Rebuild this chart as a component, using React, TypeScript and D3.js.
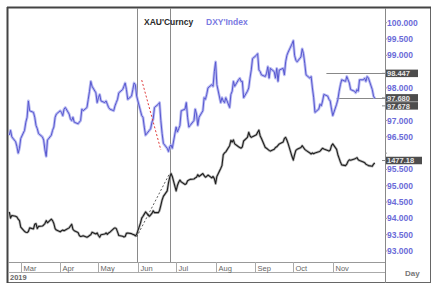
import React from "react";
import * as d3 from "d3";

const W = 437;
const H = 287;

// Trading-day closes, 20 Feb 2019 .. 4 Dec 2019 (weekdays)
const dxyClose = [
  96.55, 96.7, 96.5,
  96.35, 96.2, 96.0, 96.15, 96.45,
  96.7, 96.95, 97.1, 97.6, 97.3,
  97.25, 97.1, 96.85, 96.75, 96.6,
  96.5, 96.4, 96.1, 95.9, 96.4,
  96.55, 96.7, 96.8, 97.1, 97.2,
  97.3, 97.25, 97.15, 97.35, 97.4,
  97.2, 97.05, 97.0, 97.1, 96.95,
  96.9, 96.95, 97.0, 97.35, 97.3,
  97.4, 97.65, 97.9, 98.2, 98.05,
  97.85, 97.55, 97.7, 97.8, 97.6,
  97.55, 97.6, 97.5, 97.4, 97.35,
  97.3, 97.45, 97.55, 97.65, 97.85,
  97.95, 98.05, 98.15, 97.95, 97.65,
  97.75, 97.95, 98.15, 98.1, 97.75,
  97.3, 97.15, 97.1, 96.8, 96.55,
  96.7, 96.75, 96.95, 97.05, 97.4,
  97.5, 97.55, 97.0, 96.6, 96.3,
  96.15, 96.05, 96.2, 96.25, 96.15,
  96.8, 96.65, 96.75, 96.85, 97.3,
  97.35, 97.55, 97.1, 96.8, 96.85,
  97.0, 97.35, 97.2, 96.85, 97.1,
  97.3, 97.7, 97.65, 97.8, 98.0,
  98.1, 98.05, 98.5, 98.8, 98.1,
  97.55, 97.7, 97.6, 97.55, 97.7,
  97.4, 97.8, 97.9, 98.2, 98.05,
  98.25, 98.3, 98.2, 98.2, 97.7,
  97.9, 98.0, 98.3, 98.55, 98.9,
  99.0, 99.05, 98.55, 98.5, 98.4,
  98.35, 98.45, 98.65, 98.3, 98.6,
  98.5, 98.3, 98.6, 98.2, 98.55,
  98.6, 98.4, 98.8, 99.0, 99.1,
  99.35, 99.45, 99.0, 98.85, 98.8,
  98.95, 99.2, 99.05, 98.75, 98.4,
  98.3, 98.35, 98.0, 97.7, 97.25,
  97.35, 97.5, 97.45, 97.6, 97.8,
  97.75, 97.65, 97.6, 97.35, 97.15,
  97.5, 97.65, 97.9, 98.1, 98.25,
  98.2, 98.35, 98.25, 98.15, 97.95,
  97.9, 97.85, 97.95, 97.9, 98.25,
  98.25, 98.3, 98.2, 98.35, 98.3,
  97.95, 97.75, 97.68,
];

const goldClose = [
  1342, 1325, 1332,
  1330, 1328, 1322, 1318, 1300,
  1288, 1286, 1285, 1288, 1298,
  1295, 1308, 1310, 1296, 1302,
  1303, 1306, 1310, 1318, 1312,
  1322, 1318, 1310, 1296, 1292,
  1287, 1290, 1292, 1290, 1292,
  1298, 1303, 1308, 1294, 1290,
  1285, 1277, 1274, 1275, 1276,
  1272, 1274, 1277, 1279, 1286,
  1281, 1284, 1277, 1272, 1279,
  1281, 1284, 1280, 1284, 1286,
  1296, 1298, 1296, 1287, 1277,
  1275, 1273, 1274, 1283, 1284,
  1282, 1280, 1279, 1276, 1280,
  1311, 1325, 1330, 1336, 1342,
  1330, 1334, 1338, 1345, 1340,
  1340, 1346, 1360, 1375, 1385,
  1400, 1422, 1438, 1448, 1440,
  1400, 1415, 1424, 1430, 1425,
  1418, 1420, 1428, 1430, 1432,
  1433, 1436, 1438, 1445, 1440,
  1448, 1442, 1438, 1440, 1444,
  1436, 1440, 1434, 1420, 1440,
  1462, 1470, 1500, 1505, 1508,
  1525, 1540, 1535, 1541, 1530,
  1522, 1520, 1518, 1522, 1538,
  1548, 1562, 1552, 1548, 1550,
  1555, 1562, 1568, 1552, 1545,
  1520, 1518, 1515, 1512, 1510,
  1515, 1520, 1522, 1526, 1530,
  1535, 1545, 1548, 1540, 1530,
  1495, 1485, 1500, 1512, 1515,
  1520, 1525, 1520, 1515, 1512,
  1505, 1502, 1505, 1503, 1505,
  1508, 1510, 1514, 1518, 1516,
  1512, 1510, 1513, 1525, 1530,
  1515, 1500, 1490, 1480, 1472,
  1470, 1474, 1482, 1486, 1485,
  1488, 1490, 1492, 1486, 1484,
  1480, 1478, 1474, 1472, 1470,
  1468, 1474, 1477.18,
];

const dxyTickValues = [100, 99.5, 99, 98.5, 98, 97.5, 97, 96.5, 96, 95.5, 95, 94.5, 94, 93.5, 93];
const monthStarts = ["2019-03-01", "2019-04-01", "2019-05-01", "2019-06-01", "2019-07-01", "2019-08-01", "2019-09-01", "2019-10-01", "2019-11-01"];
const markerDates = ["2019-05-31", "2019-06-26"];
const dxyLevels = [
  { from: "2019-10-27", value: 98.447 },
  { from: "2019-11-04", value: 97.68 },
];
const redTrend = [
  { date: "2019-06-04", value: 98.24 },
  { date: "2019-06-19", value: 96.1 },
];
const goldTrend = [
  { date: "2019-05-31", value: 1273 },
  { date: "2019-06-26", value: 1449 },
];
const priceTags = [
  { text: "98.447", series: "dxy", value: 98.447, shift: 0 },
  { text: "97.680", series: "dxy", value: 97.68, shift: -0.5 },
  { text: "97.678", series: "dxy", value: 97.68, shift: 7.5 },
  { text: "1477.18", series: "gold", value: 1477.18, shift: -2.5 },
];

const parse = d3.timeParse("%Y-%m-%d");

export default function App() {
  const days = d3
    .timeDay.range(new Date(2019, 1, 20), new Date(2019, 11, 5))
    .filter((d) => d.getDay() !== 0 && d.getDay() !== 6);

  const left = 8;
  const right = 385;
  const top = 8;
  const bottom = 262;

  const x = d3.scaleTime().domain([new Date(2019, 1, 19), new Date(2019, 11, 12)]).range([left, right]);
  const yD = d3.scaleLinear().domain([93, 100]).range([251, 22.7]);
  const yG = d3.scaleLinear().domain([1270, 1477.18]).range([238, 163]);

  const n = Math.min(days.length, dxyClose.length, goldClose.length);
  const dxyPts: [number, number][] = [];
  const goldPts: [number, number][] = [];
  for (let i = 0; i < n; i++) {
    dxyPts.push([x(days[i]), yD(dxyClose[i])]);
    goldPts.push([x(days[i]), yG(goldClose[i])]);
  }
  const line = d3.line().curve(d3.curveLinear);
  const dxyPath = line(dxyPts) || "";
  const goldPath = line(goldPts) || "";

  const font = "'Liberation Sans', Arial, sans-serif";
  const blue = "#6b6bd8";

  const tagYs = priceTags.map((t) => (t.series === "dxy" ? yD(t.value) : yG(t.value)) + t.shift);
  const visibleTicks = dxyTickValues.filter((v) => tagYs.every((ty) => Math.abs(yD(v) - ty) > 8));

  return (
    <svg width={W} height={H} style={{ position: "absolute", left: 0, top: 0 }} fontFamily={font}>
      <rect x={0} y={0} width={W} height={H} fill="#fff" />
      {/* frame */}
      <rect x={7.5} y={7.5} width={423} height={275} fill="none" stroke="#666" strokeWidth={1} />
      <line x1={7} x2={431} y1={7.5} y2={7.5} stroke="#444" strokeWidth={2} />
      <line x1={7.5} x2={7.5} y1={7} y2={283} stroke="#444" strokeWidth={2} />
      <line x1={right + 0.5} x2={right + 0.5} y1={top} y2={283} stroke="#888" />
      <line x1={left} x2={right} y1={bottom + 0.5} y2={bottom + 0.5} stroke="#999" />
      <line x1={left} x2={right} y1={272.5} y2={272.5} stroke="#aaa" />

      {/* markers */}
      {markerDates.map((d) => (
        <line key={d} x1={Math.round(x(parse(d)!)) + 0.5} x2={Math.round(x(parse(d)!)) + 0.5} y1={top} y2={bottom} stroke="#8a8a8a" />
      ))}

      {/* level lines */}
      {dxyLevels.map((l) => (
        <line key={l.value} x1={x(parse(l.from)!)} x2={right} y1={Math.round(yD(l.value)) + 0.5} y2={Math.round(yD(l.value)) + 0.5} stroke="#888" />
      ))}

      {/* series */}
      <path d={goldPath} fill="none" stroke="#9a9a9a" strokeWidth={2.6} strokeLinejoin="round" opacity={0.7} />
      <path d={goldPath} fill="none" stroke="#1e1e1e" strokeWidth={1.1} strokeLinejoin="round" />
      <path d={dxyPath} fill="none" stroke="#aeb0f0" strokeWidth={2.8} strokeLinejoin="round" opacity={0.85} />
      <path d={dxyPath} fill="none" stroke="#5858d0" strokeWidth={1} strokeLinejoin="round" />

      {/* trend annotations */}
      <line x1={x(parse(redTrend[0].date)!)} y1={yD(redTrend[0].value)} x2={x(parse(redTrend[1].date)!)} y2={yD(redTrend[1].value)} stroke="#e03a3a" strokeWidth={1} strokeDasharray="2,2" />
      <line x1={x(parse(goldTrend[0].date)!)} y1={yG(goldTrend[0].value)} x2={x(parse(goldTrend[1].date)!)} y2={yG(goldTrend[1].value)} stroke="#333" strokeWidth={0.8} strokeDasharray="2,2" />

      {/* legend */}
      <text x={144} y={25} fontSize={8.5} fontWeight="bold" fill="#2a2a2a">XAU'Curncy</text>
      <text x={206} y={25} fontSize={8.5} fontWeight="bold" fill="#7a7ae2">DXY'Index</text>

      {/* right axis */}
      {dxyTickValues.map((v) => (
        <line key={"t" + v} x1={right} x2={right + 2} y1={yD(v)} y2={yD(v)} stroke="#999" />
      ))}
      {visibleTicks.map((v) => (
        <text key={v} x={387} y={yD(v) + 3} fontSize={8.5} fontWeight="bold" fill={blue}>{d3.format(".3f")(v)}</text>
      ))}
      {priceTags.map((t, i) => {
        const cy = tagYs[i];
        return (
          <g key={t.text}>
            <line x1={right - 3} x2={right} y1={cy} y2={cy} stroke="#888" />
            <rect x={386} y={cy - 3.75} width={t.text.length > 6 ? 36 : 32} height={7.5} fill="#4d4d4d" />
            <text x={387} y={cy + 2.7} fontSize={7.5} fontWeight="bold" fill="#e8e8e8">{t.text}</text>
          </g>
        );
      })}

      {/* month axis */}
      {monthStarts.map((m) => {
        const mx = Math.round(x(parse(m)!)) + 0.5;
        return (
          <g key={m}>
            <line x1={mx} x2={mx} y1={bottom} y2={272} stroke="#aaa" />
            <text x={mx + 2} y={270.5} fontSize={7.5} fill="#666">{d3.timeFormat("%b")(parse(m)!)}</text>
          </g>
        );
      })}
      <text x={10} y={279.5} fontSize={7.5} fontWeight="bold" fill="#666">2019</text>
      <text x={405} y={276} fontSize={8} fontWeight="bold" fill="#777">Day</text>
    </svg>
  );
}
